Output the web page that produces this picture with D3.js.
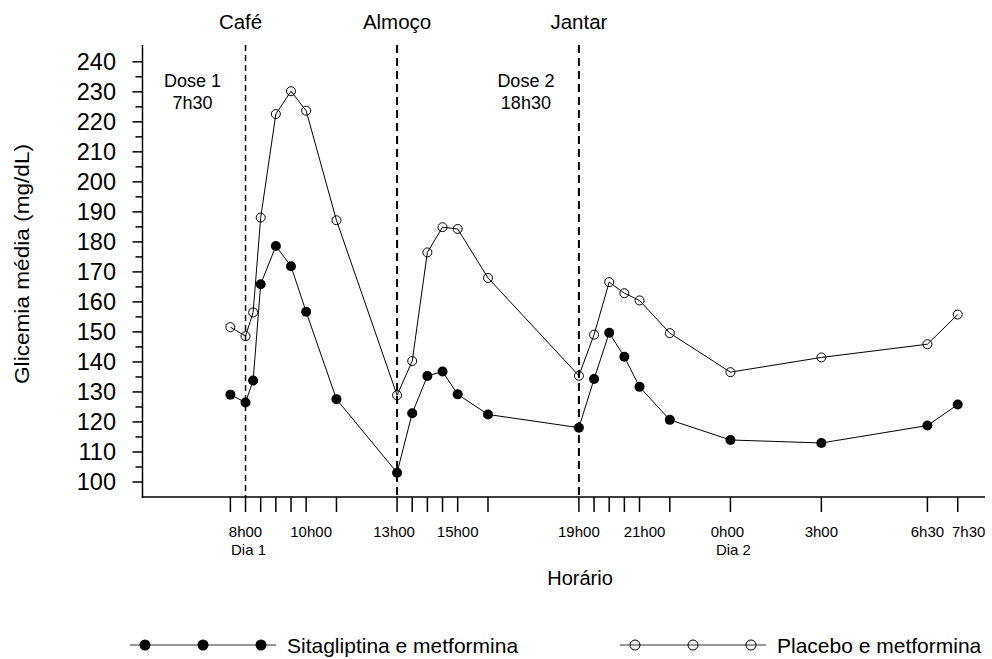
<!DOCTYPE html>
<html>
<head>
    <meta charset="utf-8">
    <title>Glicemia média</title>
    <script src="https://d3js.org/d3.v7.min.js"></script>
    <style>
        body { margin: 0; background: #fff; }
        svg { display: block; font-family: "Liberation Sans", Arial, sans-serif; }
        .axis-line { stroke: #000; stroke-width: 1.5px; }
        .serie { fill: none; stroke: #000; stroke-width: 1px; }
    </style>
</head>
<body>
<svg id="chart" width="992" height="659"></svg>
<script>
// horários (horas desde 0h do dia 1; 24 = 0h00 do dia 2)
const hours = [7.5, 8, 8.25, 8.5, 9, 9.5, 10, 11, 13, 13.5, 14, 14.5, 15, 16,
               19, 19.5, 20, 20.5, 21, 22, 24, 27, 30.5, 31.5];

// glicemia média (mg/dL)
const sitagliptina = [129.1, 126.5, 133.8, 165.9, 178.6, 171.9, 156.7, 127.6, 103.1,
                      122.9, 135.3, 136.8, 129.2, 122.5, 118.1, 134.3, 149.7, 141.7,
                      131.7, 120.7, 114.0, 113.0, 118.8, 125.8];
const placebo = [151.6, 148.6, 156.5, 188.1, 222.6, 230.2, 223.7, 187.2, 128.9,
                 140.3, 176.5, 184.9, 184.3, 168.0, 135.4, 149.1, 166.6, 162.9,
                 160.5, 149.6, 136.6, 141.5, 145.9, 155.8];

// eixo x
const xTickHours = [7.5, 8, 8.5, 9, 9.5, 10, 11, 13, 13.5, 14, 14.5, 15, 16,
                    19, 19.5, 20, 20.5, 21, 22, 24, 27, 30.5, 31.5];
const xLabelHours = [8, 10, 13, 15, 19, 21, 24, 27, 30.5, 31.5];
const xLabels = ["8h00", "10h00", "13h00", "15h00", "19h00", "21h00", "0h00", "3h00", "6h30", "7h30"];
const dayHours = [8, 24];
const dayLabels = ["Dia 1", "Dia 2"];

// refeições e doses
const mealHours = [8, 13, 19];
const mealLabels = ["Café", "Almoço", "Jantar"];
const doseLabels = [["Dose 1", "7h30"], ["Dose 2", "18h30"]];
const doseHours = [8, 19];

const yTicks = d3.range(100, 241, 10);
const yMinor = d3.range(105, 236, 10);

const seriesNames = ["Sitagliptina e metformina", "Placebo e metformina"];

const svg = d3.select("#chart");
const x = d3.scaleLinear().domain([4.6, 32.4]).range([142.5, 985]);
const y = d3.scaleLinear().domain([95, 245.6]).range([497, 45]);
const x0 = x.range()[0], yB = y.range()[0], yT = y.range()[1];

// eixo y
const gy = svg.append("g");
gy.append("line").attr("class", "axis-line")
    .attr("x1", x0).attr("x2", x0).attr("y1", yT).attr("y2", yB + 0.75);
gy.selectAll(".maj").data(yTicks).enter().append("line").attr("class", "axis-line")
    .attr("x1", x0 - 10).attr("x2", x0).attr("y1", d => y(d)).attr("y2", d => y(d));
gy.selectAll(".min").data(yMinor).enter().append("line").attr("class", "axis-line")
    .attr("x1", x0 - 7).attr("x2", x0).attr("y1", d => y(d)).attr("y2", d => y(d));
gy.selectAll("text").data(yTicks).enter().append("text")
    .attr("x", 116).attr("y", d => y(d)).attr("dy", "0.36em")
    .attr("text-anchor", "end").attr("font-size", 23.5).text(d => d);

svg.append("text")
    .attr("transform", "translate(29,264) rotate(-90)")
    .attr("text-anchor", "middle").attr("font-size", 20)
    .attr("textLength", 240).attr("lengthAdjust", "spacingAndGlyphs")
    .text("Glicemia média (mg/dL)");

// eixo x
const labelShift = {10: 5, 21: 5, 13: -3, 24: -3, 31.5: 11};
const gx = svg.append("g");
gx.append("line").attr("class", "axis-line")
    .attr("x1", x0 - 0.75).attr("x2", x.range()[1]).attr("y1", yB).attr("y2", yB);
gx.selectAll(".tk").data(xTickHours).enter().append("line").attr("class", "axis-line")
    .attr("x1", d => x(d)).attr("x2", d => x(d)).attr("y1", yB).attr("y2", yB + 15);
gx.selectAll(".lb").data(xLabelHours).enter().append("text")
    .attr("x", d => x(d) + (labelShift[d] || 0)).attr("y", 537).attr("text-anchor", "middle")
    .attr("font-size", 15).text((d, i) => xLabels[i]);
gx.selectAll(".dia").data(dayHours).enter().append("text")
    .attr("x", d => x(d) + 3).attr("y", 555).attr("text-anchor", "middle")
    .attr("font-size", 15).text((d, i) => dayLabels[i]);
svg.append("text").attr("x", 580).attr("y", 585).attr("text-anchor", "middle")
    .attr("font-size", 20).text("Horário");

// linhas das refeições
svg.selectAll(".meal").data(mealHours).enter().append("line")
    .attr("x1", d => x(d)).attr("x2", d => x(d)).attr("y1", yT).attr("y2", yB)
    .attr("stroke", "#000")
    .attr("stroke-width", (d, i) => i === 0 ? 1.5 : 2)
    .attr("stroke-dasharray", (d, i) => i === 0 ? "6,4" : "8,5");
svg.selectAll(".mealtxt").data(mealHours).enter().append("text")
    .attr("x", (d, i) => x(d) - (i === 0 ? 5 : 0)).attr("y", 29)
    .attr("text-anchor", "middle").attr("font-size", 20.5)
    .text((d, i) => mealLabels[i]);

// doses
doseHours.forEach((h, i) => {
    const t = svg.append("text").attr("text-anchor", "middle").attr("font-size", 18);
    t.append("tspan").attr("x", x(h) - 53).attr("y", 87).text(doseLabels[i][0]);
    t.append("tspan").attr("x", x(h) - 53).attr("y", 109).text(doseLabels[i][1]);
});

// séries
const line = d3.line().x((d, i) => x(hours[i])).y(d => y(d));
svg.append("path").datum(placebo).attr("class", "serie").attr("d", line);
svg.append("path").datum(sitagliptina).attr("class", "serie").attr("d", line);

svg.selectAll(".ptP").data(placebo).enter().append("circle")
    .attr("cx", (d, i) => x(hours[i])).attr("cy", d => y(d)).attr("r", 4.5)
    .attr("fill", "none").attr("stroke", "#000").attr("stroke-width", 1);
svg.selectAll(".ptS").data(sitagliptina).enter().append("circle")
    .attr("cx", (d, i) => x(hours[i])).attr("cy", d => y(d)).attr("r", 5)
    .attr("fill", "#000");

// legenda
const legY = 645;
const legends = [{x: 130, filled: true}, {x: 620, filled: false}];
legends.forEach((lg, i) => {
    const g = svg.append("g");
    g.append("line").attr("x1", lg.x).attr("x2", lg.x + 146).attr("y1", legY).attr("y2", legY)
        .attr("stroke", "#333").attr("stroke-width", 1.2);
    [15, 73, 131].forEach(o => {
        g.append("circle").attr("cx", lg.x + o).attr("cy", legY)
            .attr("r", lg.filled ? 5.5 : 5)
            .attr("fill", lg.filled ? "#000" : "none")
            .attr("stroke", "#000").attr("stroke-width", lg.filled ? 0 : 1);
    });
    g.append("text").attr("x", lg.x + 157).attr("y", legY).attr("dy", "0.36em")
        .attr("font-size", 21).text(seriesNames[i]);
});
</script>
</body>
</html>
